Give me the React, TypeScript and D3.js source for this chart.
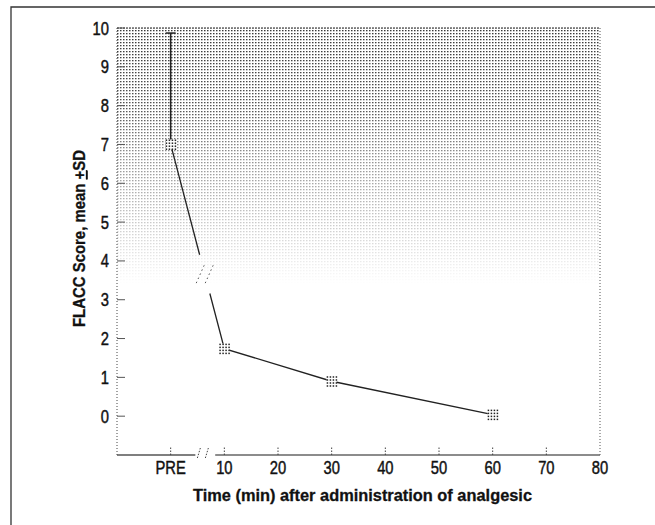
import * as d3 from "d3";
import { useEffect, useRef } from "react";

// time points (PRE plotted at 0 on the minute axis)
const times = [0, 10, 30, 60];
const means = [7.0, 1.74, 0.9, 0.04];
const sdUpper = [9.87, null, null, null];
const xTicks = [0, 10, 20, 30, 40, 50, 60, 70, 80];
const xTickLabels = ["PRE", "10", "20", "30", "40", "50", "60", "70", "80"];
const yTicks = [0, 1, 2, 3, 4, 5, 6, 7, 8, 9, 10];
// where the line is broken between PRE and 10
const lineBreak = [5.4, 7.3];
const axisBreak = [4.6, 8.3];

const App = () => {
  const ref = useRef(null);

  useEffect(() => {
    d3.select(ref.current).selectAll("*").remove();

    const width = 655,
      height = 525;
    const left = 117,
      right = 600,
      top = 28,
      bottom = 455;

    const svg = d3.select(ref.current)
      .attr("width", width)
      .attr("height", height);

    const x = d3.scaleLinear().domain([-10, 80]).range([left, right]);
    const y = d3.scaleLinear().domain([-1, 10]).range([bottom, top]);

    const font = "'Liberation Sans', Arial, Helvetica, sans-serif";

    // outer frame
    svg.append("path")
      .attr("d", `M11,${height} L11,7 L${width},7`)
      .attr("fill", "none")
      .attr("stroke", "#333")
      .attr("stroke-width", 1.3);

    // stippled background fading downward
    const defs = svg.append("defs");
    const pat = defs.append("pattern")
      .attr("id", "dots")
      .attr("patternUnits", "userSpaceOnUse")
      .attr("width", 3)
      .attr("height", 3);
    pat.append("rect").attr("width", 1.5).attr("height", 1.3).attr("fill", "#222");

    const grad = defs.append("linearGradient")
      .attr("id", "fade")
      .attr("gradientUnits", "userSpaceOnUse")
      .attr("x1", 0).attr("x2", 0)
      .attr("y1", y(10)).attr("y2", y(3.4));
    [[0, 0.9], [0.3, 0.78], [0.5, 0.5], [0.72, 0.28], [0.88, 0.12], [1, 0]].forEach(([o, a]) => {
      grad.append("stop").attr("offset", o).attr("stop-color", "white").attr("stop-opacity", a);
    });
    const mask = defs.append("mask").attr("id", "fadeMask");
    mask.append("rect")
      .attr("x", left).attr("y", top)
      .attr("width", right - left).attr("height", bottom - top)
      .attr("fill", "url(#fade)");

    svg.append("rect")
      .attr("x", left).attr("y", top)
      .attr("width", right - left).attr("height", y(3.4) - top)
      .attr("fill", "url(#dots)")
      .attr("mask", "url(#fadeMask)");

    // borders
    svg.append("line")
      .attr("x1", left).attr("x2", left).attr("y1", top).attr("y2", bottom)
      .attr("stroke", "#444").attr("stroke-dasharray", "1,2");
    svg.append("line")
      .attr("x1", right).attr("x2", right).attr("y1", top).attr("y2", bottom)
      .attr("stroke", "#555").attr("stroke-dasharray", "1,2");
    svg.append("line")
      .attr("x1", left).attr("x2", right).attr("y1", top).attr("y2", top)
      .attr("stroke", "#222").attr("stroke-width", 1.2).attr("stroke-dasharray", "2,1");

    // x axis line with break
    svg.append("line")
      .attr("x1", left).attr("x2", x(axisBreak[0])).attr("y1", bottom).attr("y2", bottom)
      .attr("stroke", "#555").attr("stroke-width", 1.5);
    svg.append("line")
      .attr("x1", x(axisBreak[1])).attr("x2", right).attr("y1", bottom).attr("y2", bottom)
      .attr("stroke", "#666").attr("stroke-width", 1.5);
    [0, 8].forEach(dx => {
      svg.append("line")
        .attr("x1", x(axisBreak[0]) + 2 + dx).attr("x2", x(axisBreak[0]) + 5 + dx)
        .attr("y1", bottom + 3).attr("y2", bottom - 7)
        .attr("stroke", "#444").attr("stroke-dasharray", "1.5,1.5");
    });

    // y ticks
    svg.append("g").selectAll("line")
      .data(yTicks)
      .join("line")
      .attr("x1", left).attr("x2", left + 8)
      .attr("y1", d => y(d)).attr("y2", d => y(d))
      .attr("stroke", "#555");
    svg.append("g").selectAll("text")
      .data(yTicks)
      .join("text")
      .attr("transform", d => `translate(${left - 8},${y(d) + 6.5}) scale(0.82,1)`)
      .attr("text-anchor", "end")
      .attr("font-family", font)
      .attr("font-size", 18)
      .attr("fill", "#111")
      .attr("stroke", "#111")
      .attr("stroke-width", 0.45)
      .text(d => d);

    // x ticks
    svg.append("g").selectAll("line")
      .data(xTicks.slice(0, -1))
      .join("line")
      .attr("x1", d => x(d)).attr("x2", d => x(d))
      .attr("y1", bottom).attr("y2", bottom - 9)
      .attr("stroke", "#444")
      .attr("stroke-dasharray", "1.5,1.5");
    svg.append("g").selectAll("text")
      .data(xTicks)
      .join("text")
      .attr("transform", d => `translate(${x(d)},${bottom + 19}) scale(0.82,1)`)
      .attr("text-anchor", "middle")
      .attr("font-family", font)
      .attr("font-size", 18)
      .attr("fill", "#111")
      .attr("stroke", "#111")
      .attr("stroke-width", 0.45)
      .text((d, i) => xTickLabels[i]);

    // axis titles
    svg.append("text")
      .attr("x", 193)
      .attr("y", 501)
      .attr("textLength", 339)
      .attr("lengthAdjust", "spacingAndGlyphs")
      .attr("font-family", font)
      .attr("font-weight", "bold")
      .attr("font-size", 17)
      .attr("fill", "#111")
      .attr("stroke", "#111")
      .attr("stroke-width", 0.3)
      .text("Time (min) after administration of analgesic");

    const yt = svg.append("text")
      .attr("transform", `translate(85,327) rotate(-90)`)
      .attr("textLength", 177)
      .attr("lengthAdjust", "spacingAndGlyphs")
      .attr("font-family", font)
      .attr("font-weight", "bold")
      .attr("font-size", 17)
      .attr("fill", "#111")
      .attr("stroke", "#111")
      .attr("stroke-width", 0.3);
    yt.append("tspan").text("FLACC Score, mean ");
    yt.append("tspan").attr("text-decoration", "underline").text("+");
    yt.append("tspan").text("SD");

    // error bar
    times.forEach((t, i) => {
      if (sdUpper[i] == null) return;
      svg.append("line")
        .attr("x1", x(t)).attr("x2", x(t))
        .attr("y1", y(means[i])).attr("y2", y(sdUpper[i]))
        .attr("stroke", "#222").attr("stroke-width", 1.5);
      svg.append("line")
        .attr("x1", x(t) - 5).attr("x2", x(t) + 5)
        .attr("y1", y(sdUpper[i])).attr("y2", y(sdUpper[i]))
        .attr("stroke", "#222").attr("stroke-width", 1.5);
    });

    // mean line, broken between PRE and 10
    const seg = d3.scaleLinear().domain([times[0], times[1]]).range([means[0], means[1]]);
    const pts = [
      [[times[0], means[0]], [lineBreak[0], seg(lineBreak[0])]],
      [[lineBreak[1], seg(lineBreak[1])], ...times.slice(1).map((t, i) => [t, means[i + 1]])]
    ];
    const line = d3.line().x(d => x(d[0])).y(d => y(d[1]));
    pts.forEach(p => {
      svg.append("path")
        .attr("d", line(p))
        .attr("fill", "none")
        .attr("stroke", "#222")
        .attr("stroke-width", 1.3);
    });

    // break slashes on the line
    const bx = x((lineBreak[0] + lineBreak[1]) / 2),
      by = y(seg((lineBreak[0] + lineBreak[1]) / 2));
    [-4.5, 4.5].forEach(dx => {
      svg.append("line")
        .attr("x1", bx + dx - 4).attr("x2", bx + dx + 4)
        .attr("y1", by + 9).attr("y2", by - 9)
        .attr("stroke", "#555").attr("stroke-dasharray", "1.5,3");
    });

    // dotted square markers
    const g = svg.append("g");
    times.forEach((t, i) => {
      const cx = x(t), cy = y(means[i]);
      g.append("rect")
        .attr("x", cx - 5).attr("y", cy - 5)
        .attr("width", 10).attr("height", 10)
        .attr("fill", "white");
      d3.range(4).forEach(r => {
        d3.range(4).forEach(c => {
          g.append("rect")
            .attr("x", cx - 5 + c * 3)
            .attr("y", cy - 5 + r * 3)
            .attr("width", 1.5).attr("height", 1.5)
            .attr("fill", "#222");
        });
      });
    });
  }, []);

  return <svg ref={ref} style={{ position: "absolute", left: 0, top: 0 }} />;
};

export default App;
